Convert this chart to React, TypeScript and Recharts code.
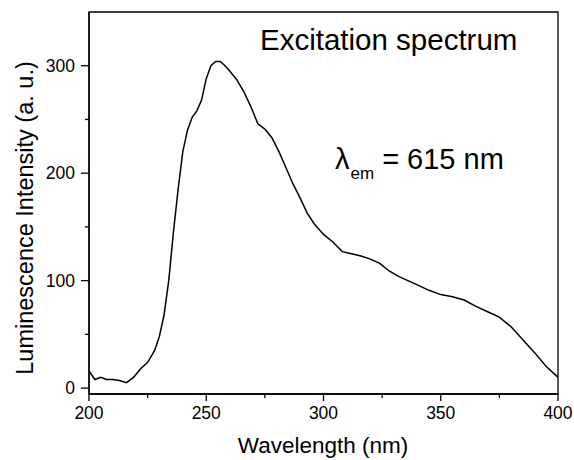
import React from 'react';
import { LineChart, Line, XAxis, YAxis, ReferenceArea, Customized } from 'recharts';

const wavelength = [
  200, 202.5, 205, 207.5, 210, 213, 216, 219, 222, 225, 228, 230, 232, 234, 236, 238, 240, 242, 244, 246,
  248, 250, 252, 254, 256, 258, 260, 263, 266, 269, 272, 275, 278, 281, 284, 287, 290, 293, 296, 300,
  304, 308, 312, 316, 320, 324, 328, 332, 336, 340, 345, 350, 355, 360, 365, 370, 375, 380, 385, 390,
  395, 400,
];
const intensity = [
  16, 8, 10, 8, 8, 7, 5, 10, 18, 24, 35, 48, 68, 100, 145, 185, 220, 240, 252, 258,
  268, 288, 300, 304, 304, 300, 295, 287, 276, 262, 246, 241, 233, 220, 205, 190, 177, 163, 153, 143,
  136, 127, 125, 123, 120, 116, 109, 104, 100, 96, 91, 87, 85, 82, 76, 71, 66, 57, 45, 33,
  20, 10,
];
const xTicks = [200, 225, 250, 275, 300, 325, 350, 375, 400];
const yTicks = [0, 50, 100, 150, 200, 250, 300];

const data = wavelength.map((w, i) => ({ w, v: intensity[i] }));

const FONT = '"Liberation Sans", Arial, sans-serif';

function XTick(props: any) {
  const { x, y, payload } = props;
  const major = payload.value % 50 === 0;
  return (
    <g>
      <line x1={x} x2={x} y1={y} y2={y + (major ? 7 : 4)} stroke="#000" strokeWidth={1.3} />
      {major && (
        <text x={x} y={y + 25} textAnchor="middle" fontSize={17.5} fontFamily={FONT} fill="#000">
          {payload.value}
        </text>
      )}
    </g>
  );
}

function YTick(props: any) {
  const { x, y, payload } = props;
  const major = payload.value % 100 === 0;
  return (
    <g>
      <line x1={x - (major ? 8 : 4)} x2={x} y1={y} y2={y} stroke="#000" strokeWidth={1.3} />
      {major && (
        <text x={x - 14} y={y + 6} textAnchor="end" fontSize={17.5} fontFamily={FONT} fill="#000">
          {payload.value}
        </text>
      )}
    </g>
  );
}

function Annotations() {
  return (
    <g fontFamily={FONT} fill="#000">
      <text x={260} y={50} fontSize={29.5}>Excitation spectrum</text>
      <text x={335} y={169} fontSize={29}>
        λ
        <tspan fontSize={17} dy={10} dx={1}>em</tspan>
        <tspan fontSize={29} dy={-10} dx={8}>= 615 nm</tspan>
      </text>
      <text x={323} y={453} textAnchor="middle" fontSize={22.5}>Wavelength (nm)</text>
      <text x={33} y={218} textAnchor="middle" fontSize={23.5} transform="rotate(-90 33 218)">
        Luminescence Intensity (a. u.)
      </text>
    </g>
  );
}

export default function App() {
  return (
    <div style={{ position: 'absolute', left: 0, top: 0, width: 574, height: 460, background: '#fff' }}>
      <LineChart width={574} height={460} data={data} margin={{ top: 12, right: 16, bottom: 36, left: 29 }}>
        <XAxis
          dataKey="w"
          type="number"
          domain={[200, 400]}
          ticks={xTicks}
          tick={<XTick />}
          tickLine={false}
          tickSize={0}
          tickMargin={0}
          height={30}
          stroke="#000"
          strokeWidth={1.3}
          allowDataOverflow
        />
        <YAxis
          type="number"
          domain={[-5.5, 350]}
          ticks={yTicks}
          tick={<YTick />}
          tickLine={false}
          tickSize={0}
          tickMargin={0}
          width={60}
          stroke="#000"
          strokeWidth={1.3}
          allowDataOverflow
        />
        <ReferenceArea x1={200} x2={400} y1={-5.5} y2={350} fill="none" fillOpacity={0} stroke="#000" strokeWidth={1.3} />
        <Line dataKey="v" type="linear" stroke="#000" strokeWidth={1.5} dot={false} isAnimationActive={false} />
        <Customized component={Annotations} />
      </LineChart>
    </div>
  );
}
